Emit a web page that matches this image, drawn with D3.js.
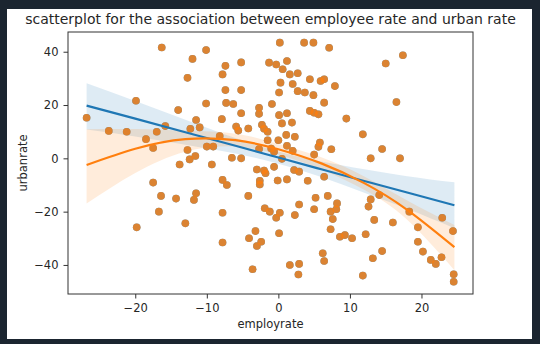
<!DOCTYPE html>
<html>
<head>
<meta charset="utf-8">
<script src="https://cdn.jsdelivr.net/npm/d3@7"></script>
<style>
  body { margin: 0; background: #1b2530; }
  svg { display: block; }
  text { font-family: "DejaVu Sans", sans-serif; fill: #262626; }
</style>
</head>
<body>
<div id="chart"></div>
<script>
// employment rate vs urban rate, one point per country
const employrate = [
  -26.8, -23.7, -21.2, -19.9, -19.8, -18.5, -17.5, -17.5, -17.0, -16.7,
  -16.4, -16.3, -15.8, -14.3, -14.0, -13.8, -13.0, -12.7, -12.7, -12.4,
  -12.3, -12.0, -11.8, -11.6, -11.5, -11.5, -11.0, -10.1, -10.1, -10.0,
  -9.3, -9.1, -8.2, -7.9, -7.8, -7.8, -7.8, -7.8, -7.4, -7.4,
  -7.3, -7.2, -6.3, -6.5, -5.9, -5.6, -5.2, -5.2, -5.2, -5.2,
  -4.2, -4.2, -4.1, -3.6, -3.2, -3.0, -3.0, -2.7, -2.7, -2.7,
  -2.6, -2.6, -2.4, -2.3, -2.0, -2.0, -1.9, -1.8, -1.5, -1.5,
  -1.3, -1.2, -1.0, -0.9, -0.6, -0.6, -0.3, -0.3, -0.1, 0.0,
  0.1, 0.1, 0.1, 0.2, 0.2, 0.3, 0.5, 0.5, 0.6, 1.1,
  1.2, 1.2, 1.2, 1.2, 1.6, 1.6, 1.9, 2.0, 2.0, 2.2,
  2.3, 2.3, 2.7, 2.7, 2.9, 2.9, 2.8, 2.9, 3.6, 3.7,
  4.1, 4.4, 4.4, 4.9, 4.9, 5.0, 5.0, 5.0, 5.2, 5.6,
  5.6, 5.8, 5.9, 6.2, 6.4, 6.4, 6.4, 6.4, 6.9, 7.1,
  7.3, 7.4, 7.6, 7.3, 7.9, 8.1, 8.2, 8.6, 9.3, 9.5,
  10.3, 11.8, 11.8, 12.2, 12.6, 12.9, 12.9, 13.2, 13.4, 14.1,
  14.5, 14.5, 15.0, 16.0, 16.5, 17.0, 17.4, 18.3, 19.5, 19.5,
  20.2, 21.3, 22.0, 22.8, 22.9, 24.4, 24.5, 24.5
];
const urbanrate = [
  15.2, 10.3, 10.0, 21.6, -25.9, 7.2, 3.9, -9.1, 10.0, -20.0,
  -14.1, 41.6, 12.1, -15.1, 18.1, -2.3, -24.4, 30.2, 3.1, -0.4,
  11.1, 37.3, -15.6, 0.9, 14.4, -13.1, 11.6, 40.6, 20.6, 4.4,
  -2.3, 4.4, 8.4, 14.7, 31.5, -8.1, -20.4, -31.6, 34.7, 25.6,
  20.8, -10.0, 20.4, 0.2, 11.9, 10.4, 36.0, 25.6, 16.9, 0.0,
  11.2, -14.1, -30.0, -41.6, -27.3, -4.2, -32.9, 19.0, 16.7, 3.5,
  -8.4, -9.8, -31.3, 12.6, 11.1, -4.6, -18.7, -5.6, 10.0, 6.8,
  35.9, -20.0, 3.7, 20.4, -3.2, 2.5, 35.2, -22.3, -8.3, 6.8,
  24.7, 16.2, -28.1, 43.4, -20.4, 28.4, 13.1, -0.2, 33.4, 8.8,
  36.5, 16.9, 4.7, -7.9, 31.5, -40.0, 13.4, 27.9, 2.8, -4.4,
  8.1, -21.3, 25.2, 31.9, -17.3, -39.6, -43.6, -5.0, 43.4, 24.7,
  -8.4, 29.7, 17.8, 43.4, 23.7, 17.1, 1.4, -19.1, -14.8, 16.5,
  4.3, 5.9, 29.0, -35.6, 29.7, 20.9, -6.9, -38.5, -14.1, 41.5,
  -20.0, 3.4, -22.8, -26.6, 27.1, -19.1, -16.9, -29.4, -28.8, 14.9,
  -30.0, 9.0, -44.0, -28.5, -18.1, 0.0, -15.4, -37.5, -23.1, -13.8,
  3.5, -34.8, 35.6, -24.1, 21.1, 0.0, 38.7, -20.0, -25.9, -31.3,
  -35.0, -38.1, -39.6, -37.1, -22.3, -27.3, -43.5, -46.3
];

// fitted curves and 95% bands
const fitX = [-26.8, -20, -13, -6, 0, 6, 12, 18, 24.6];
const linearFit = [19.8, 14.9, 9.8, 4.7, 0.3, -4.1, -8.5, -12.8, -17.6];
const linearLo = [10.8, 8.2, 5.1, 1.8, -2.0, -7.0, -12.9, -18.9, -26.2];
const linearHi = [28.2, 21.5, 14.5, 7.6, 2.6, -1.2, -4.1, -6.7, -9.0];
const quadFit = [-2.5, 3.6, 7.2, 6.8, 3.4, -1.9, -9.3, -19.3, -33.3];
const quadLo = [-16.9, -5.5, 2.5, 4.4, 1.4, -4.2, -11.8, -23.0, -42.0];
const quadHi = [10.9, 11.0, 10.4, 9.2, 5.4, 0.4, -6.8, -15.8, -25.0];

const xTicks = [-20, -10, 0, 10, 20];
const yTicks = [-40, -20, 0, 20, 40];

const W = 540, H = 344;
const plot = {left: 68, right: 473, top: 32, bottom: 294};
const blue = "#1f77b4", orange = "#ff7f0e";

const svg = d3.select("#chart").append("svg")
    .attr("width", W)
    .attr("height", H);

svg.append("rect")
    .attr("width", W).attr("height", H)
    .attr("fill", "#1b2530");
svg.append("rect")
    .attr("x", 7).attr("y", 9)
    .attr("width", 525).attr("height", 330)
    .attr("fill", "#ffffff");

const x = d3.scaleLinear()
    .domain([-29.4, 27.2])
    .range([plot.left, plot.right]);
const y = d3.scaleLinear()
    .domain([-50.9, 47.4])
    .range([plot.bottom, plot.top]);

const points = employrate.map((e, i) => ({e: e, u: urbanrate[i]}));
const fit = fitX.map((v, i) => ({
    x: v, lin: linearFit[i], linLo: linearLo[i], linHi: linearHi[i],
    quad: quadFit[i], quadLo: quadLo[i], quadHi: quadHi[i]
}));

const band = (lo, hi) => d3.area()
    .x(d => x(d.x))
    .y0(d => y(d[lo]))
    .y1(d => y(d[hi]))
    .curve(d3.curveNatural);
const fitLine = key => d3.line()
    .x(d => x(d.x))
    .y(d => y(d[key]))
    .curve(d3.curveNatural);

function scatter(color) {
    svg.append("g")
        .selectAll("circle")
        .data(points)
        .join("circle")
        .attr("cx", d => x(d.e))
        .attr("cy", d => y(d.u))
        .attr("r", 3.8)
        .attr("fill", color)
        .attr("fill-opacity", 0.8);
}

// two regplots on the same axes: linear first, then order 2
scatter(blue);
svg.append("path").datum(fit)
    .attr("d", band("linLo", "linHi"))
    .attr("fill", blue).attr("fill-opacity", 0.15);
scatter(orange);
svg.append("path").datum(fit)
    .attr("d", band("quadLo", "quadHi"))
    .attr("fill", orange).attr("fill-opacity", 0.15);

svg.append("path").datum(fit)
    .attr("d", fitLine("lin"))
    .attr("fill", "none").attr("stroke", blue).attr("stroke-width", 2.2);
svg.append("path").datum(fit)
    .attr("d", fitLine("quad"))
    .attr("fill", "none").attr("stroke", orange).attr("stroke-width", 2.2);

// axes
const xAxis = svg.append("g")
    .attr("transform", `translate(0,${plot.bottom})`)
    .call(d3.axisBottom(x).tickValues(xTicks).tickSize(4.5).tickSizeOuter(0).tickPadding(5));
const yAxis = svg.append("g")
    .attr("transform", `translate(${plot.left},0)`)
    .call(d3.axisLeft(y).tickValues(yTicks).tickSize(4.5).tickSizeOuter(0).tickPadding(5));
[xAxis, yAxis].forEach(a => {
    a.select(".domain").remove();
    a.selectAll(".tick line").attr("stroke", "#333").attr("stroke-width", 1);
    a.selectAll(".tick text")
        .attr("fill", "#262626")
        .style("font-size", "11.5px")
        .style("font-family", "DejaVu Sans");
});

svg.append("rect")
    .attr("x", plot.left).attr("y", plot.top)
    .attr("width", plot.right - plot.left)
    .attr("height", plot.bottom - plot.top)
    .attr("fill", "none")
    .attr("stroke", "#333").attr("stroke-width", 1);

svg.append("text")
    .attr("x", (plot.left + plot.right) / 2)
    .attr("y", 328)
    .attr("text-anchor", "middle")
    .style("font-size", "11.5px")
    .text("employrate");

svg.append("text")
    .attr("transform", `translate(27,${(plot.top + plot.bottom) / 2}) rotate(-90)`)
    .attr("text-anchor", "middle")
    .style("font-size", "11.5px")
    .text("urbanrate");

svg.append("text")
    .attr("x", (plot.left + plot.right) / 2)
    .attr("y", 24)
    .attr("text-anchor", "middle")
    .style("font-size", "14px")
    .text("scatterplot for the association between employee rate and urban rate");
</script>
</body>
</html>
